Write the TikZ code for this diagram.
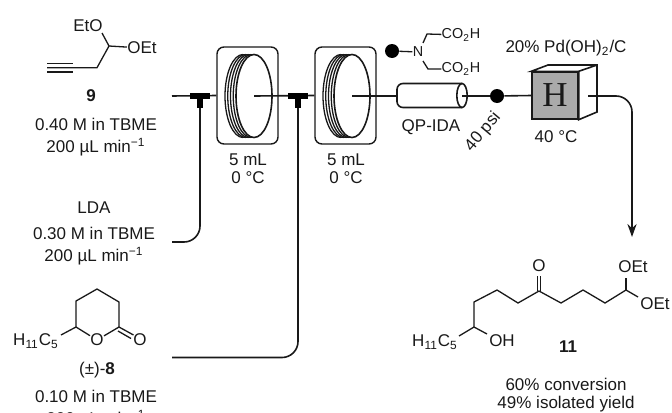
\documentclass[tikz,border=0pt]{standalone}
\usepackage{fontspec}
\setmainfont{Liberation Sans}
\newfontfamily\cubefont{Liberation Serif}
\usetikzlibrary{arrows.meta}
\definecolor{inkgrey}{RGB}{25,25,25}
\definecolor{cubegrey}{RGB}{170,170,170}
\tikzset{
  every node/.style={inner sep=0pt,text=inkgrey,font=\fontsize{8.5}{11}\selectfont,align=center},
  flowline/.style={draw=inkgrey,line width=0.8pt},
  bondline/.style={draw=inkgrey,line width=0.65pt},
  coilbox/.style={draw=inkgrey,line width=0.7pt,rounded corners=3.5pt,minimum width=30.5pt,minimum height=48.5pt},
  gaugedot/.style={circle,fill=black,minimum size=7pt},
  smalltext/.style={font=\fontsize{7.2}{9}\selectfont}
}
\begin{document}
\begin{tikzpicture}[x=0.5pt,y=-0.5pt]
    \useasboundingbox (0,0) rectangle (672,412);
    \clip (0,0) rectangle (672,412);
    % feeds
    \node (acetal) at (96,137) {0.40 M in TBME\\200 µL min\textsuperscript{−1}};
    \node (nine) at (91,96) {\textbf{9}};
    \node (lda) at (94,233) {LDA\\[2pt]0.30 M in TBME\\200 µL min\textsuperscript{−1}};
    \node (lactone) at (96,409) {0.10 M in TBME\\200 µL min\textsuperscript{−1}};
    \node (eight) at (97,370) {(±)-\textbf{8}};
    % joints of the flow path
    \coordinate (startA) at (172,96);
    \coordinate (startB) at (172,242);
    \coordinate (startC) at (172,357.5);
    \coordinate (mixA) at (200,96);
    \coordinate (mixB) at (298,96);
    \coordinate (coreA) at (254,96);
    \coordinate (coreB) at (352,96);
    \coordinate (tubeL) at (397,96);
    \coordinate (tubeR) at (462,96);
    \coordinate (cubeout) at (588,96);
    \coordinate (bend) at (632,96);
    \coordinate (outlet) at (632,237);
    % coil reactors
    \foreach \n/\dx in {A/0,B/98}{
      \node[coilbox] (box\n) at ({247.5+\dx},95.5) {};
      \foreach \k in {1,...,4}
        \draw[bondline] ({254+\dx-\k*2.75},96) ++(0,-41.5) arc[start angle=90,end angle=270,x radius=9pt,y radius=20.75pt];
      \draw[bondline] ({254+\dx-11},54.5) -- ({254+\dx},54.5);
      \draw[bondline] ({254+\dx-11},137.5) -- ({254+\dx},137.5);
      \draw[flowline,fill=white] (core\n) circle[x radius=9pt,y radius=20.75pt];
      \node (vol\n) at ({248+\dx},169) {5 mL\\[-2pt]0 °C};
    }
    % flow lines
    \draw[flowline] (startA) -- (boxA.west);
    \draw[flowline] (coreA) -- (boxB.west);
    \draw[flowline] (coreB) -- (tubeL);
    \draw[flowline,rounded corners=8pt] (startB) -| (mixA);
    \draw[flowline,rounded corners=8pt] (startC) -| (mixB);
    % T pieces
    \foreach \n in {A,B}{
      \draw[line width=2.6pt,draw=black] (mix\n) ++(-10,0) -- ++(20,0);
      \draw[line width=3pt,draw=black] (mix\n) -- ++(0,12);
    }
    % scavenger column
    \draw[flowline,rounded corners=3pt] (462,83.5) -- (397,83.5) -- (397,107.5) -- (462,107.5);
    \draw[flowline] (462,95.5) circle[x radius=2.6pt,y radius=6pt];
    \node (qpida) at (431,127) {QP-IDA};
    \node[gaugedot] (gauge) at (497,96) {};
    \node[rotate=50] (psi) at (483,132) {40 psi};
    \draw[flowline] (tubeR) -- (gauge);
    % H-cube
    \node[draw=inkgrey,line width=0.7pt,fill=cubegrey,minimum width=23pt,minimum height=23.5pt,font=\cubefont\fontsize{17.5}{18}\selectfont] (hcube) at (555,95.5) {H};
    \draw[flowline,fill=white] (hcube.north west) -- (548,65) -- (597,65) -- (597,112) -- (hcube.south east) -- (hcube.north east) -- cycle;
    \draw[flowline] (hcube.north east) -- (597,65);
    \draw[flowline] (gauge) -- (hcube.west);
    \draw[flowline,rounded corners=8pt,-{Stealth[length=6.5pt,width=4.6pt]}] (cubeout) -- (bend) -- (outlet);
    \node (pdc) at (566,48) {20\% Pd(OH)\textsubscript{2}/C};
    \node (temp) at (556,137) {40 °C};
    % bead with ligand
    \node[gaugedot] (bead) at (392,51) {};
    \node[smalltext] (amine) at (418,52) {N};
    \node[smalltext] (acidA) at (461,35) {CO\textsubscript{2}H};
    \node[smalltext] (acidB) at (461,69) {CO\textsubscript{2}H};
    \draw[bondline] (bead) -- (amine);
    \draw[bondline] (423,43) -- (427,34) -- (acidA);
    \draw[bondline] (423,61) -- (428,69) -- (acidB);
    % alkyne 9
    \node (etoa) at (88,26) {EtO};
    \node (oeta) at (142,48) {OEt};
    \draw[bondline] (47,63.3) -- (73,63.3) (47,72) -- (73,72);
    \draw[bondline] (47,67.7) -- (97,67.7) -- (109,46) -- (oeta);
    \draw[bondline] (109,46) -- (102,33);
    % lactone 8
    \node (hexa) at (36,341) {H\textsubscript{11}C\textsubscript{5}};
    \node (ringo) at (97,340) {O};
    \node (carbo) at (140,340) {O};
    \draw[bondline] (ringo) -- (76,327) -- (76,301) -- (97,289) -- (119,302) -- (119,327) -- (ringo);
    \draw[bondline] (76,327) -- (61,335);
    \draw[bondline] (119,327) -- (133.5,335) (118,331) -- (131,338.5);
    % product 11
    \node (hexb) at (435,342) {H\textsubscript{11}C\textsubscript{5}};
    \node (hydroxy) at (502,341) {OH};
    \node (keto) at (539,266) {O};
    \node (oetb) at (633,267) {OEt};
    \node (oetc) at (655,304) {OEt};
    \node (eleven) at (568,347) {\textbf{11}};
    \node (yield) at (566,395) {60\% conversion\\[-2pt]49\% isolated yield};
    \draw[bondline] (459,336) -- (474,327) -- (474,302) -- (497,290) -- (518,303) -- (539,291) -- (561,303) -- (583,290) -- (605,303) -- (626,290) -- (638,297);
    \draw[bondline] (474,327) -- (487,334);
    \draw[bondline] (626,290) -- (626,278);
    \draw[bondline] (537.5,291) -- (537.5,276) (540.5,291) -- (540.5,276);
\end{tikzpicture}
\end{document}
